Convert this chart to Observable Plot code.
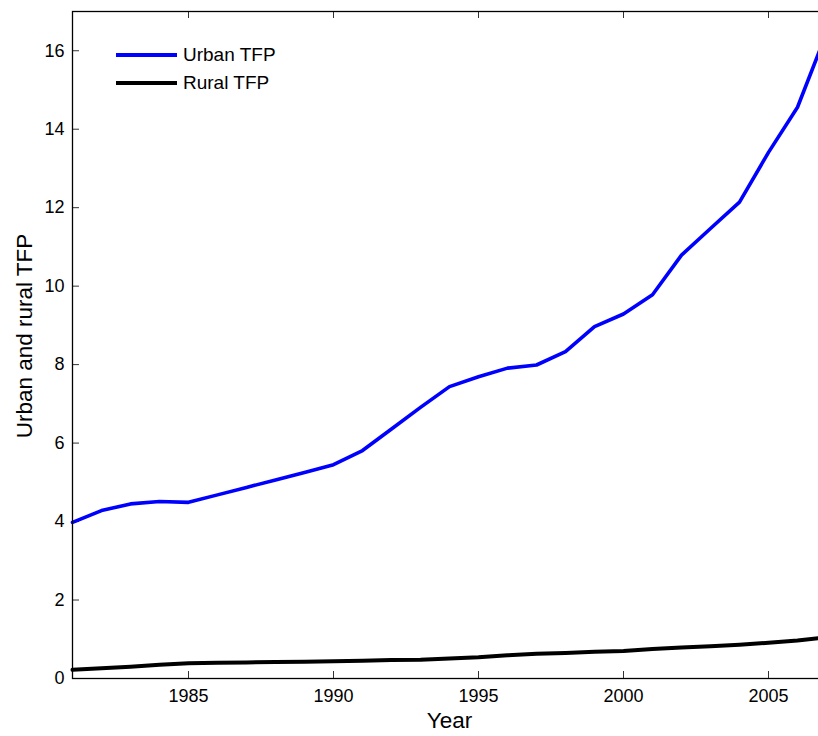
<!DOCTYPE html>
<html>
<head>
<meta charset="utf-8">
<script src="https://cdn.jsdelivr.net/npm/d3@7"></script>
<script src="https://cdn.jsdelivr.net/npm/@observablehq/plot@0.6"></script>
<style>
  html, body { margin: 0; padding: 0; background: #fff; overflow: hidden; }
  #wrap { position: relative; width: 818px; height: 736px; font-family: "Liberation Sans", Arial, Helvetica, sans-serif; }
  #wrap svg.plot { overflow: hidden; }
  #legend { position: absolute; left: 116px; top: 41px; font-size: 19px; color: #000; }
  #legend .item { display: flex; align-items: center; height: 28px; }
  #legend .sw { width: 61px; margin-right: 6px; }
</style>
</head>
<body>
<div id="wrap"></div>
<script>
// ---- data ----
const years = [1981,1982,1983,1984,1985,1986,1987,1988,1989,1990,1991,1992,1993,1994,1995,1996,1997,1998,1999,2000,2001,2002,2003,2004,2005,2006,2007];
const urbanTFP = [3.98,4.28,4.45,4.51,4.49,4.68,4.87,5.06,5.25,5.45,5.81,6.36,6.91,7.44,7.69,7.91,7.99,8.33,8.97,9.29,9.78,10.79,11.47,12.14,13.41,14.56,16.45];
const ruralTFP = [0.22,0.26,0.30,0.35,0.39,0.40,0.41,0.42,0.43,0.44,0.45,0.47,0.48,0.51,0.54,0.59,0.63,0.65,0.68,0.70,0.75,0.79,0.82,0.86,0.91,0.97,1.05];
const seriesNames = ["Urban TFP", "Rural TFP"];
const seriesColors = ["#0000ff", "#000000"];
const xTicks = [1985, 1990, 1995, 2000, 2005];
const yTicks = [0, 2, 4, 6, 8, 10, 12, 14, 16];
const xLabel = "Year";
const yLabel = "Urban and rural TFP";
const xDomain = [1981, 2007];
const yDomain = [0, 17];

const rows = [];
years.forEach((yr, i) => {
  rows.push({year: yr, value: urbanTFP[i], series: seriesNames[0]});
  rows.push({year: yr, value: ruralTFP[i], series: seriesNames[1]});
});

const W = 818, H = 736, mL = 72, mR = -8, mT = 11, mB = 58;
const innerW = W - mL - mR, innerH = H - mT - mB;
const tickLen = 7;

const chart = Plot.plot({
  width: W,
  height: H,
  marginLeft: mL,
  marginRight: mR,
  marginTop: mT,
  marginBottom: mB,
  style: {fontFamily: "Liberation Sans, Arial, Helvetica, sans-serif", fontSize: "18px", color: "#000", background: "#fff"},
  x: {domain: xDomain},
  y: {domain: yDomain},
  marks: [
    // inward ticks on all four sides
    Plot.tickX(xTicks, {x: d => d, insetTop: innerH - tickLen, stroke: "#333", strokeWidth: 1}),
    Plot.tickX(xTicks, {x: d => d, insetBottom: innerH - tickLen, stroke: "#333", strokeWidth: 1}),
    Plot.tickY(yTicks, {y: d => d, insetRight: innerW - tickLen, stroke: "#333", strokeWidth: 1}),
    Plot.tickY(yTicks, {y: d => d, insetLeft: innerW - tickLen, stroke: "#333", strokeWidth: 1}),
    Plot.axisX({ticks: xTicks, tickSize: 0, tickPadding: 11, tickFormat: d => String(d), label: null, fontSize: 18}),
    Plot.axisY({ticks: yTicks, tickSize: 0, tickPadding: 8, tickFormat: d => String(d), label: null, fontSize: 18}),
    Plot.line(rows.filter(d => d.series === seriesNames[1]), {x: "year", y: "value", stroke: seriesColors[1], strokeWidth: 4, strokeLinejoin: "round"}),
    Plot.line(rows.filter(d => d.series === seriesNames[0]), {x: "year", y: "value", stroke: seriesColors[0], strokeWidth: 3.6, strokeLinejoin: "round"}),
    Plot.frame({stroke: "#000", strokeWidth: 1.3}),
    Plot.text([xLabel], {frameAnchor: "bottom", lineAnchor: "top", dy: 34, fontSize: 22.5, fill: "#000"}),
    Plot.text([yLabel], {frameAnchor: "left", textAnchor: "middle", rotate: -90, lineAnchor: "top", dx: -56, dy: -9, fontSize: 22.5, fill: "#000"})
  ]
});

const wrap = document.getElementById("wrap");
wrap.appendChild(chart);

// legend overlay (no box, as in the reference)
const legend = document.createElement("div");
legend.id = "legend";
seriesNames.forEach((name, i) => {
  const item = document.createElement("div");
  item.className = "item";
  const sw = document.createElement("div");
  sw.className = "sw";
  sw.style.height = (i === 0 ? 3.6 : 4) + "px";
  sw.style.background = seriesColors[i];
  const lab = document.createElement("span");
  lab.textContent = name;
  item.appendChild(sw);
  item.appendChild(lab);
  legend.appendChild(item);
});
wrap.appendChild(legend);
</script>
</body>
</html>
